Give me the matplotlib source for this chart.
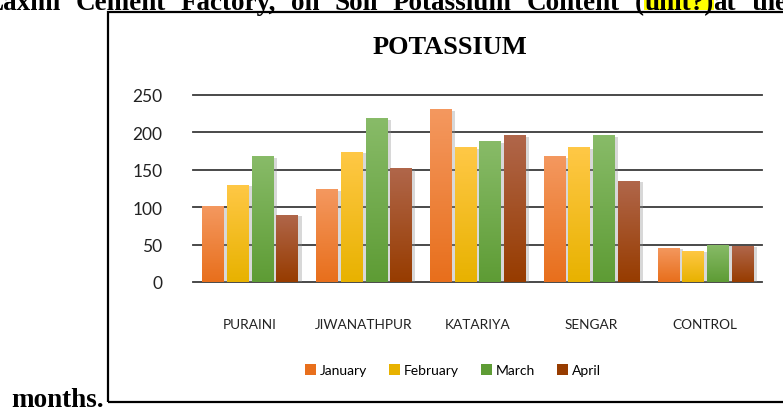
import numpy as np
import matplotlib
matplotlib.use("Agg")
import matplotlib.pyplot as plt
import matplotlib.patheffects as pe
from matplotlib.colors import LinearSegmentedColormap
from matplotlib.patches import Rectangle

# data
sites = ["PURAINI", "JIWANATHPUR", "KATARIYA", "SENGAR", "CONTROL"]
months = ["January", "February", "March", "April"]
january = [101, 124, 231, 168, 46]
february = [130, 174, 180, 180, 42]
march = [168, 219, 188, 196, 50]
april = [90, 152, 196, 135, 48]
yticks = [0, 50, 100, 150, 200, 250]

series = [january, february, march, april]
# (top colour, bottom colour) of the gradient fill
shades = [("#F4985F", "#E86F1C"),
          ("#FFC846", "#E8B200"),
          ("#88BB68", "#5E9C35"),
          ("#B0664A", "#973C00")]

W, H = 783, 410
fig = plt.figure(figsize=(W / 100, H / 100), dpi=100)
ax = fig.add_axes([193 / W, 1 - 283 / H, (762 - 193) / W, (283 - 96) / H])

x = np.arange(len(sites))
bw = 0.185
step = 0.217
grad = np.linspace(1, 0, 64).reshape(-1, 1)

for i, vals in enumerate(series):
    top, bot = shades[i]
    cmap = LinearSegmentedColormap.from_list("g%d" % i, [bot, top])
    bars = ax.bar(x + (i - 1.5) * step, vals, bw, color=top, zorder=2,
                  label=months[i],
                  path_effects=[pe.SimplePatchShadow(offset=(3, -1), shadow_rgbFace="#909090", alpha=0.35),
                                pe.Normal()])
    for b in bars:
        x0, w, h = b.get_x(), b.get_width(), b.get_height()
        im = ax.imshow(grad, cmap=cmap, extent=(x0, x0 + w, 0, h), aspect="auto",
                       zorder=2.5, vmin=0, vmax=1)
        im.set_clip_path(b)

ax.set_xlim(-0.5, len(sites) - 0.5)
ax.set_ylim(0, 250)
ax.set_yticks(yticks)
ax.set_yticklabels([str(v) for v in yticks], fontsize=12.5, family="Lato", color="#222222")
ax.set_xticks(x)
ax.set_xticklabels(sites, fontsize=9.8, family="Lato", color="#222222")
ax.tick_params(length=0)
ax.tick_params(axis="y", pad=22)
ax.tick_params(axis="x", pad=26)
for s in ax.spines.values():
    s.set_visible(False)
ax.yaxis.grid(True, color="#3a3a3a", linewidth=1.3, zorder=1)
ax.set_axisbelow(True)
for gl in ax.get_ygridlines():
    gl.set_clip_on(False)

fig.text(450 / W, 1 - 48 / H, "POTASSIUM", ha="center", va="center",
         fontsize=19, fontweight="bold", family="Liberation Serif")

handles, labels = ax.get_legend_handles_labels()
leg = fig.legend(handles, labels, loc="center", ncol=4, frameon=False,
                 bbox_to_anchor=(453 / W, 1 - 371 / H),
                 prop={"family": "Lato", "size": 10},
                 handlelength=0.8, handleheight=0.8, handletextpad=0.25,
                 columnspacing=1.6)
for h, (top, bot) in zip(leg.legend_handles, shades):
    h.set_path_effects([])
    h.set_facecolor(bot)

# frame of the embedded chart
fig.patches.append(Rectangle((108 / W, 1 - 403 / H), 0.95, (403 - 12.7) / H,
                             transform=fig.transFigure, fill=False,
                             edgecolor="black", linewidth=1.6, zorder=5))

# document text around the chart (justified line, so wider word gaps)
serif = dict(fontsize=19.5, fontweight="bold", family="Liberation Serif")
pieces = [("Laxmi", 0), ("Cement", 0), ("Factory,", 0), ("on", 0), ("Soil", 0),
          ("Potassium", 0), ("Content", 0), ("(", 0), ("unit?)", 1), ("at", 0), ("the", 0)]
gaps = [15, 15, 15, 15, 15, 15, 15, 0, 0, 15, 0]
fig.canvas.draw()
r = fig.canvas.get_renderer()
xpos = -15
base = 1 - 10 / H
for (word, hl), gap in zip(pieces, gaps):
    t = fig.text(xpos / W, base, word, va="baseline", zorder=3, **serif)
    bb = t.get_window_extent(r)
    if hl:
        fig.patches.append(Rectangle((bb.x0 / W, 1 - 11 / H), bb.width / W, 0.1,
                                     transform=fig.transFigure, facecolor="#FFFF00",
                                     edgecolor="none", zorder=1))
    xpos = bb.x1 + gap
fig.text(11 / W, 3 / H, "months.", va="baseline", **serif)

fig.savefig("out.png", dpi=100)
